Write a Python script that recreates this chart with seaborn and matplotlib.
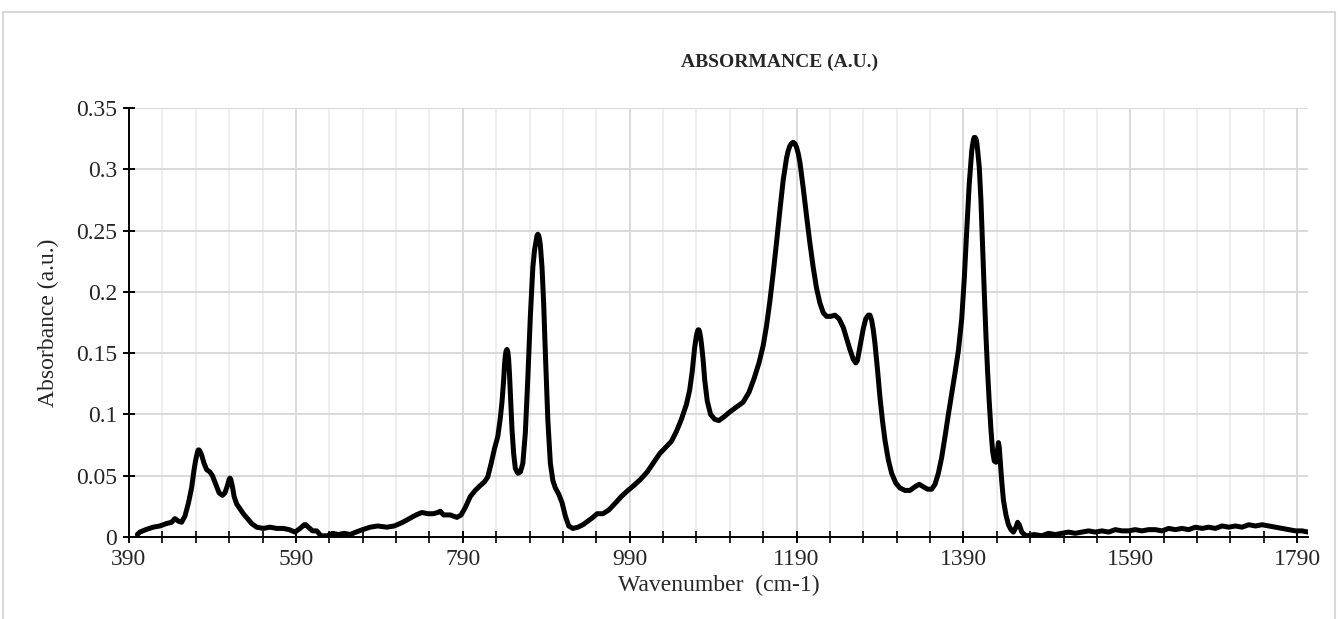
import numpy as np
import pandas as pd
import matplotlib
matplotlib.use("Agg")
import matplotlib.pyplot as plt
from matplotlib.ticker import FixedLocator, FuncFormatter
from matplotlib.patches import Rectangle
import seaborn as sns

# FTIR absorbance spectrum (wavenumber in cm-1, absorbance in a.u.), ten points per row
wavenumber = [
    400, 403, 410, 419, 427, 435, 441, 445, 449, 453,
    457, 461, 465, 468, 470, 472, 473, 474, 475, 477,
    480, 483, 487, 490, 494, 498, 502, 505, 508, 510,
    511, 512, 514, 516, 519, 523, 527, 532, 537, 543,
    551, 559, 567, 575, 582, 589, 595, 600, 602, 605,
    610, 615, 620, 627, 634, 641, 648, 655, 662, 670,
    679, 688, 699, 708, 718, 726, 734, 741, 748, 755,
    760, 763, 767, 775, 783, 788, 793, 799, 805, 811,
    816, 820, 824, 828, 832, 835, 837, 839, 840, 841,
    842, 843, 844, 845, 846, 847, 849, 851, 853, 856,
    859, 862, 865, 868, 871, 874, 876, 878, 879, 880,
    881, 882, 883, 885, 887, 889, 892, 895, 898, 901,
    905, 909, 913, 917, 922, 928, 934, 940, 946, 951,
    958, 965, 972, 980, 988, 995, 1003, 1011, 1018, 1026,
    1033, 1040, 1046, 1052, 1058, 1062, 1065, 1068, 1070, 1071,
    1072, 1073, 1074, 1075, 1076, 1078, 1080, 1083, 1087, 1092,
    1097, 1103, 1110, 1118, 1126, 1133, 1139, 1145, 1150, 1154,
    1158, 1162, 1166, 1170, 1174, 1178, 1180, 1182, 1184, 1186,
    1188, 1190, 1192, 1194, 1198, 1202, 1206, 1210, 1214, 1218,
    1222, 1226, 1231, 1236, 1241, 1246, 1250, 1254, 1258, 1261,
    1263, 1266, 1270, 1273, 1276, 1278, 1280, 1282, 1284, 1287,
    1290, 1293, 1296, 1300, 1304, 1309, 1314, 1320, 1326, 1332,
    1337, 1342, 1347, 1352, 1356, 1360, 1364, 1368, 1372, 1376,
    1380, 1384, 1388, 1391, 1394, 1397, 1399, 1400, 1401, 1402,
    1403, 1404, 1405, 1406, 1407, 1409, 1411, 1413, 1415, 1417,
    1419, 1421, 1423, 1425, 1427, 1429, 1431, 1432, 1433, 1434,
    1436, 1438, 1441, 1444, 1447, 1450, 1453, 1455, 1457, 1460,
    1463, 1466, 1475, 1484, 1492, 1500, 1508, 1516, 1524, 1532,
    1540, 1548, 1556, 1564, 1572, 1580, 1588, 1596, 1604, 1612,
    1620, 1628, 1636, 1644, 1652, 1660, 1668, 1676, 1684, 1692,
    1700, 1708, 1716, 1724, 1732, 1740, 1748, 1756, 1764, 1772,
    1780, 1788, 1796, 1803,
]
absorbance = [
    0.002, 0.004, 0.006, 0.008, 0.009, 0.011, 0.012, 0.015, 0.013, 0.012,
    0.017, 0.027, 0.040, 0.055, 0.063, 0.069, 0.071, 0.071, 0.070, 0.067,
    0.060, 0.055, 0.053, 0.050, 0.043, 0.036, 0.034, 0.036, 0.042, 0.047,
    0.048, 0.047, 0.041, 0.033, 0.027, 0.023, 0.019, 0.015, 0.011, 0.008,
    0.007, 0.008, 0.007, 0.007, 0.006, 0.004, 0.007, 0.010, 0.010, 0.008,
    0.005, 0.005, 0.001, 0.001, 0.003, 0.002, 0.003, 0.002, 0.004, 0.006,
    0.008, 0.009, 0.008, 0.009, 0.012, 0.015, 0.018, 0.020, 0.019, 0.019,
    0.020, 0.021, 0.018, 0.018, 0.016, 0.018, 0.024, 0.033, 0.038, 0.042,
    0.045, 0.049, 0.060, 0.072, 0.082, 0.097, 0.110, 0.128, 0.140, 0.148,
    0.152, 0.153, 0.151, 0.145, 0.133, 0.118, 0.088, 0.068, 0.056, 0.052,
    0.053, 0.060, 0.085, 0.130, 0.180, 0.220, 0.234, 0.242, 0.246, 0.247,
    0.246, 0.243, 0.238, 0.220, 0.190, 0.150, 0.095, 0.060, 0.046, 0.040,
    0.035, 0.028, 0.017, 0.009, 0.007, 0.008, 0.010, 0.013, 0.016, 0.019,
    0.019, 0.022, 0.027, 0.033, 0.038, 0.042, 0.047, 0.053, 0.060, 0.068,
    0.073, 0.078, 0.086, 0.096, 0.108, 0.120, 0.135, 0.155, 0.164, 0.167,
    0.169, 0.169, 0.167, 0.163, 0.158, 0.145, 0.128, 0.111, 0.100, 0.096,
    0.095, 0.098, 0.102, 0.106, 0.110, 0.118, 0.129, 0.142, 0.156, 0.172,
    0.192, 0.215, 0.240, 0.266, 0.291, 0.309, 0.315, 0.319, 0.321, 0.322,
    0.321, 0.318, 0.313, 0.306, 0.285, 0.262, 0.240, 0.220, 0.203, 0.191,
    0.183, 0.180, 0.180, 0.181, 0.178, 0.171, 0.162, 0.153, 0.145, 0.142,
    0.144, 0.155, 0.170, 0.178, 0.181, 0.181, 0.177, 0.169, 0.158, 0.137,
    0.114, 0.095, 0.079, 0.063, 0.052, 0.044, 0.040, 0.038, 0.038, 0.041,
    0.043, 0.041, 0.039, 0.039, 0.043, 0.052, 0.065, 0.082, 0.100, 0.117,
    0.134, 0.152, 0.178, 0.210, 0.250, 0.288, 0.306, 0.315, 0.320, 0.324,
    0.326, 0.326, 0.325, 0.322, 0.316, 0.302, 0.275, 0.237, 0.200, 0.165,
    0.135, 0.110, 0.088, 0.070, 0.062, 0.061, 0.072, 0.077, 0.073, 0.064,
    0.045, 0.030, 0.018, 0.010, 0.006, 0.004, 0.008, 0.012, 0.010, 0.004,
    0.002, 0.001, 0.002, 0.001, 0.003, 0.002, 0.003, 0.004, 0.003, 0.004,
    0.005, 0.004, 0.005, 0.004, 0.006, 0.005, 0.005, 0.006, 0.005, 0.006,
    0.006, 0.005, 0.007, 0.006, 0.007, 0.006, 0.008, 0.007, 0.008, 0.007,
    0.009, 0.008, 0.009, 0.008, 0.010, 0.009, 0.010, 0.009, 0.008, 0.007,
    0.006, 0.005, 0.005, 0.004,
]

x_major_ticks = [390, 590, 790, 990, 1190, 1390, 1590, 1790]
y_ticks = [0, 0.05, 0.1, 0.15, 0.2, 0.25, 0.3, 0.35]

title_text = "ABSORMANCE (A.U.)"
x_label = "Wavenumber  (cm-1)"
y_label = "Absorbance (a.u.)"

df = pd.DataFrame({"wavenumber": wavenumber, "absorbance": absorbance})

sns.set_theme(style="white")
plt.rcParams["font.family"] = ["Liberation Serif", "DejaVu Serif"]

W, H = 1338, 619
fig = plt.figure(figsize=(W / 100, H / 100), dpi=100)
ax = fig.add_axes([129 / W, (H - 537) / H, (1308 - 129) / W, (537 - 108) / H])

# light chart-area border
fig.patches.append(Rectangle((3 / W, -0.1), (1335 - 3) / W, (H - 12) / H + 0.1,
                             transform=fig.transFigure, fill=False,
                             edgecolor="#d9d9d9", linewidth=1.5, zorder=0))

sns.lineplot(data=df, x="wavenumber", y="absorbance", ax=ax, color="black",
             linewidth=3.6, estimator=None, sort=False, zorder=3)
for line in ax.get_lines():
    line.set_solid_joinstyle("round")
    line.set_solid_capstyle("round")

ax.set_xlim(390, 1803)
ax.set_ylim(0, 0.35)

ax.xaxis.set_major_locator(FixedLocator(x_major_ticks))
ax.xaxis.set_minor_locator(FixedLocator(list(range(390, 1803, 40))))
ax.yaxis.set_major_locator(FixedLocator(y_ticks))
ax.yaxis.set_major_formatter(FuncFormatter(lambda v, p: f"{v:g}"))

ax.grid(which="major", axis="both", color="#d9d9d9", linewidth=1.4, zorder=0)
ax.grid(which="minor", axis="x", color="#ededed", linewidth=1.3, zorder=0)
ax.set_axisbelow(True)

for side in ("top", "right"):
    ax.spines[side].set_visible(False)
for side in ("left", "bottom"):
    ax.spines[side].set_color("black")
    ax.spines[side].set_linewidth(1.4)

ax.tick_params(axis="x", which="major", direction="inout", length=9, width=1.4,
               color="black", labelsize=17, pad=4, bottom=True)
ax.tick_params(axis="x", which="minor", direction="inout", length=8, width=1.2,
               color="black", bottom=True)
ax.tick_params(axis="y", which="major", direction="inout", length=9, width=1.4,
               color="black", labelsize=17, pad=4, left=True)

ax.set_xlabel(x_label, fontsize=17, labelpad=4)
ax.set_ylabel(y_label, fontsize=17, labelpad=12)

fig.text(780 / W, 1 - 62 / H, title_text, ha="center", va="center",
         fontsize=14, fontweight="bold")

fig.savefig("out.png", dpi=100, facecolor="white")
